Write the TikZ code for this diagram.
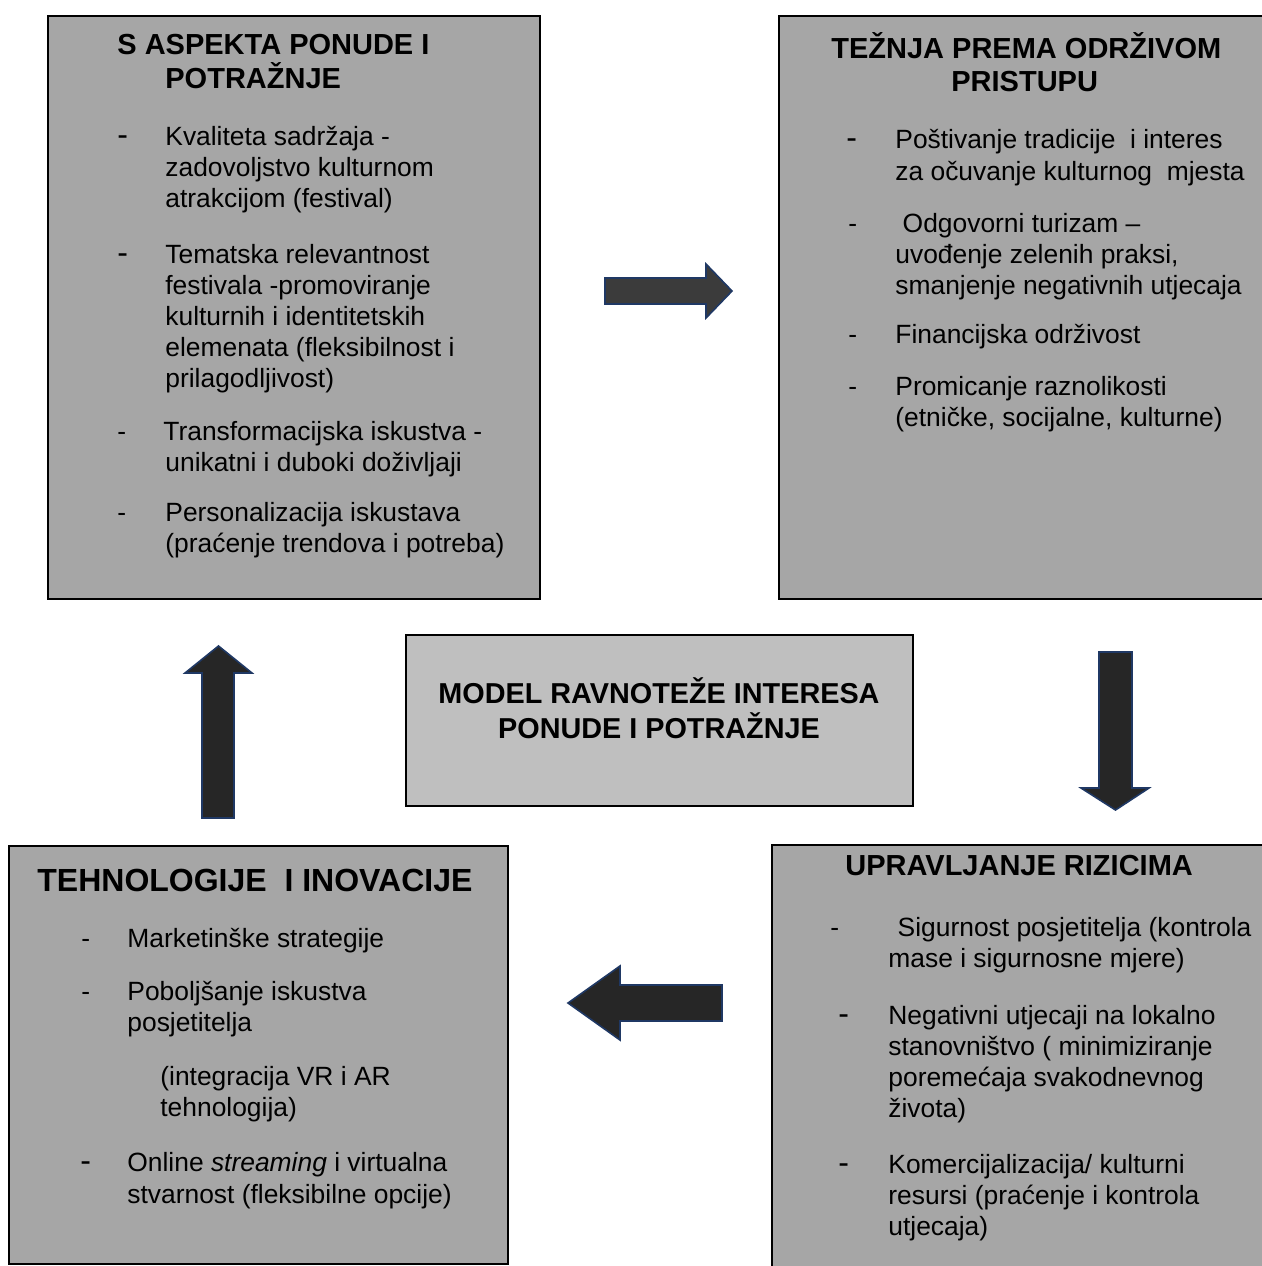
\documentclass[tikz,border=0pt]{standalone}
\usepackage{fontspec}
\setmainfont{Liberation Sans}
\definecolor{boxgray}{HTML}{A6A6A6}
\definecolor{cgray}{HTML}{BFBFBF}
\definecolor{arrowfill}{HTML}{262626}
\definecolor{arrowfillb}{HTML}{3B3B3B}
\definecolor{arrowblue}{HTML}{1F3864}
\begin{document}
\begin{tikzpicture}[x=0.5pt,y=-0.5pt,
  box/.style={draw=black, line width=1.1pt, fill=boxgray, inner sep=0pt, anchor=north west},
  cbox/.style={draw=black, line width=1.1pt, fill=cgray, inner sep=0pt, anchor=north west},
  body/.style={inner sep=0pt, anchor=base west, font=\fontsize{13.2}{15.5}\selectfont},
  dsh/.style={inner sep=0pt, anchor=base west, font=\fontsize{13.2}{15.5}\selectfont},
  bigdsh/.style={inner sep=0pt, anchor=base west, font=\fontsize{16}{18}\selectfont},
  ttl/.style={inner sep=0pt, anchor=base west, font=\fontsize{14.5}{17}\selectfont\bfseries},
  ctl/.style={inner sep=0pt, anchor=base, font=\fontsize{14.4}{17}\selectfont\bfseries},
  bigttl/.style={inner sep=0pt, anchor=base west, font=\fontsize{16}{19}\selectfont\bfseries},
  barrow/.style={draw=arrowblue, line width=0.8pt, fill=arrowfill, line join=miter}]
\useasboundingbox (0,0) rectangle (1262,1266);
\fill[white] (0,0) rectangle (1262,1266);

% boxes
\node[box, minimum width=246pt, minimum height=291.5pt] (b1) at (47,15) {};
\node[box, minimum width=246pt, minimum height=291.5pt] (b2) at (778,15) {};
\node[box, minimum width=249.5pt, minimum height=215.5pt] (b3) at (771,844) {};
\node[box, minimum width=249.5pt, minimum height=209pt] (b4) at (8,845) {};
\node[cbox, minimum width=253.5pt, minimum height=85.5pt] (c) at (405,634) {};

% box 1
\node[ttl] (t1a) at (117,54) {S ASPEKTA PONUDE I};
\node[ttl] (t1b) at (165,88) {POTRAŽNJE};
\node[bigdsh] (d11) at (117,145) {-};
\node[body] (l11) at (165,145) {Kvaliteta sadržaja -};
\node[body] (l12) at (165,176) {zadovoljstvo kulturnom};
\node[body] (l13) at (165,207) {atrakcijom (festival)};
\node[bigdsh] (d12) at (117,263) {-};
\node[body] (l14) at (165,263) {Tematska relevantnost};
\node[body] (l15) at (165,294) {festivala -promoviranje};
\node[body] (l16) at (165,325) {kulturnih i identitetskih};
\node[body] (l17) at (165,356) {elemenata (fleksibilnost i};
\node[body] (l18) at (165,387) {prilagodljivost)};
\node[dsh] (d13) at (117,440) {-};
\node[body] (l19) at (163,440) {Transformacijska iskustva -};
\node[body] (l110) at (165,471) {unikatni i duboki doživljaji};
\node[dsh] (d14) at (117,521) {-};
\node[body] (l111) at (165,521) {Personalizacija iskustava};
\node[body] (l112) at (165,552) {(praćenje trendova i potreba)};

% box 2
\node[ttl] (t2a) at (831,58) {TEŽNJA PREMA ODRŽIVOM};
\node[ttl] (t2b) at (951,91) {PRISTUPU};
\node[bigdsh] (d21) at (846,148) {-};
\node[body] (l21) at (895,148) {Poštivanje tradicije\ \ i interes};
\node[body] (l22) at (895,180) {za očuvanje kulturnog\ \ mjesta};
\node[dsh] (d22) at (848,232) {-};
\node[body] (l23) at (895,232) {\ Odgovorni turizam –};
\node[body] (l24) at (895,263) {uvođenje zelenih praksi,};
\node[body] (l25) at (895,294) {smanjenje negativnih utjecaja};
\node[dsh] (d23) at (848,343) {-};
\node[body] (l26) at (895,343) {Financijska održivost};
\node[dsh] (d24) at (848,395) {-};
\node[body] (l27) at (895,395) {Promicanje raznolikosti};
\node[body] (l28) at (895,426) {(etničke, socijalne, kulturne)};

% centre
\node[ctl] (c1) at (659,703) {MODEL RAVNOTEŽE INTERESA};
\node[ctl] (c2) at (659,738) {PONUDE I POTRAŽNJE};

% box 3
\node[ttl] (t3) at (845,875) {UPRAVLJANJE RIZICIMA};
\node[dsh] (d31) at (830,936) {-};
\node[body] (l31) at (890,936) {\ Sigurnost posjetitelja (kontrola};
\node[body] (l32) at (888,967) {mase i sigurnosne mjere)};
\node[bigdsh] (d32) at (838,1024) {-};
\node[body] (l33) at (888,1024) {Negativni utjecaji na lokalno};
\node[body] (l34) at (888,1055) {stanovništvo ( minimiziranje};
\node[body] (l35) at (888,1086) {poremećaja svakodnevnog};
\node[body] (l36) at (888,1117) {života)};
\node[bigdsh] (d33) at (838,1173) {-};
\node[body] (l37) at (888,1173) {Komercijalizacija/ kulturni};
\node[body] (l38) at (888,1204) {resursi (praćenje i kontrola};
\node[body] (l39) at (888,1235) {utjecaja)};

% box 4
\node[bigttl] (t4) at (37,891) {TEHNOLOGIJE\ \ I INOVACIJE};
\node[dsh] (d41) at (81,947) {-};
\node[body] (l41) at (127,947) {Marketinške strategije};
\node[dsh] (d42) at (81,1000) {-};
\node[body] (l42) at (127,1000) {Poboljšanje iskustva};
\node[body] (l43) at (127,1031) {posjetitelja};
\node[body] (l44) at (160,1085) {(integracija VR i AR};
\node[body] (l45) at (160,1116) {tehnologija)};
\node[bigdsh] (d43) at (80,1171) {-};
\node[body] (l46) at (127,1171) {Online \textit{streaming} i virtualna};
\node[body] (l47) at (127,1203) {stvarnost (fleksibilne opcije)};

% block arrows
\draw[barrow, fill=arrowfillb] (605,278) -- (706,278) -- (706,264) -- (732,291) -- (706,318) -- (706,304) -- (605,304) -- cycle;
\draw[barrow] (1099,652) -- (1132,652) -- (1132,788) -- (1149,788) -- (1115.5,810) -- (1081,788) -- (1099,788) -- cycle;
\draw[barrow] (722,985) -- (620,985) -- (620,966) -- (568,1003) -- (620,1040) -- (620,1021) -- (722,1021) -- cycle;
\draw[barrow] (202,818) -- (202,673) -- (185,673) -- (218.5,646) -- (252,673) -- (234,673) -- (234,818) -- cycle;
\end{tikzpicture}
\end{document}
